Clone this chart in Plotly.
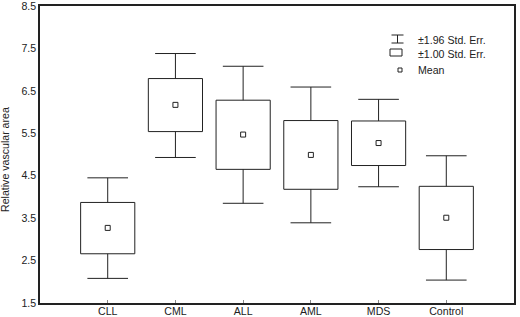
import plotly.graph_objects as go

categories = ["CLL", "CML", "ALL", "AML", "MDS", "Control"]
mean = [3.27, 6.17, 5.47, 4.99, 5.27, 3.51]
se1_lo = [2.66, 5.54, 4.65, 4.18, 4.74, 2.76]
se1_hi = [3.87, 6.79, 6.28, 5.80, 5.79, 4.25]
se196_lo = [2.08, 4.93, 3.85, 3.39, 4.24, 2.04]
se196_hi = [4.45, 7.38, 7.08, 6.59, 6.30, 4.97]
y_ticks = [1.5, 2.5, 3.5, 4.5, 5.5, 6.5, 7.5, 8.5]
legend_labels = ["±1.96 Std. Err.", "±1.00 Std. Err.", "Mean"]

INK = "#222222"
FONT = "Liberation Sans, Arial, sans-serif"
FS = 10.6

W, H = 520, 317
L, R, T, B = 40, 6, 6, 14
PW, PH = W - L - R, H - T - B

BOX_HALF = 0.4
CAP_HALF = 0.3


def px(x):
    return (x - L) / PW


def py(y):
    return (H - B - y) / PH


xi = list(range(len(categories)))

# boxes (±1.00 SE)
bx, by = [], []
for i, lo, hi in zip(xi, se1_lo, se1_hi):
    bx += [i - BOX_HALF, i + BOX_HALF, i + BOX_HALF, i - BOX_HALF, i - BOX_HALF, None]
    by += [lo, lo, hi, hi, lo, None]

# whiskers (±1.96 SE)
wx, wy = [], []
for i, lo1, hi1, lo2, hi2 in zip(xi, se1_lo, se1_hi, se196_lo, se196_hi):
    wx += [i, i, None, i - CAP_HALF, i + CAP_HALF, None]
    wy += [hi1, hi2, None, hi2, hi2, None]
    wx += [i, i, None, i - CAP_HALF, i + CAP_HALF, None]
    wy += [lo1, lo2, None, lo2, lo2, None]

fig = go.Figure()
fig.add_trace(go.Scatter(x=bx, y=by, mode="lines", line=dict(color=INK, width=1),
                         hoverinfo="skip", showlegend=False))
fig.add_trace(go.Scatter(x=wx, y=wy, mode="lines", line=dict(color=INK, width=1),
                         hoverinfo="skip", showlegend=False))
fig.add_trace(go.Scatter(
    x=xi, y=mean, mode="markers",
    marker=dict(symbol="square-open", size=5, color=INK, line=dict(width=1, color=INK)),
    showlegend=False,
))

shapes = [
    dict(type="line", xref="paper", yref="paper", x0=px(391.5), x1=px(403.5), y0=py(35), y1=py(35), line=dict(color=INK, width=1)),
    dict(type="line", xref="paper", yref="paper", x0=px(391.5), x1=px(403.5), y0=py(43), y1=py(43), line=dict(color=INK, width=1)),
    dict(type="line", xref="paper", yref="paper", x0=px(397.5), x1=px(397.5), y0=py(35), y1=py(43), line=dict(color=INK, width=1)),
    dict(type="rect", xref="paper", yref="paper", x0=px(390), x1=px(402), y0=py(49), y1=py(56), line=dict(color=INK, width=1)),
    dict(type="rect", xref="paper", yref="paper", x0=px(398), x1=px(402), y0=py(68), y1=py(72), line=dict(color=INK, width=1)),
]
annotations = []
for lab, yy in zip(legend_labels, [40, 53.5, 70]):
    annotations.append(dict(text=lab, xref="paper", yref="paper", x=px(416), y=py(yy),
                            xanchor="left", yanchor="middle", showarrow=False,
                            font=dict(size=FS, color=INK, family=FONT)))
annotations.append(dict(text="Relative vascular area", xref="paper", yref="paper",
                        x=px(5), y=py(160), textangle=-90, xanchor="center", yanchor="middle",
                        showarrow=False, font=dict(size=FS, color=INK, family=FONT)))

fig.update_layout(
    width=W, height=H,
    margin=dict(l=L, r=R, t=T, b=B),
    paper_bgcolor="white", plot_bgcolor="white",
    showlegend=False,
    shapes=shapes, annotations=annotations,
    font=dict(family=FONT, size=FS, color=INK),
)
fig.update_xaxes(
    range=[-1, 6], tickvals=xi, ticktext=categories,
    showline=True, linecolor=INK, linewidth=1.5, mirror=True,
    ticks="inside", ticklen=3, tickcolor="#888", showgrid=False, zeroline=False,
    tickfont=dict(size=FS, color=INK, family=FONT), automargin=False,
    ticklabeloverflow="allow", ticklabelstandoff=-2,
)
fig.update_yaxes(
    range=[1.5, 8.5], tickvals=y_ticks, ticktext=[f"{v:.1f}" for v in y_ticks],
    showline=True, linecolor=INK, linewidth=1.5, mirror=True,
    ticks="", showgrid=False, zeroline=False,
    tickfont=dict(size=FS, color=INK, family=FONT), automargin=False,
    ticklabeloverflow="allow",
)
fig.write_html("out.html", config={"displayModeBar": False},
               post_script="document.body.style.margin='0';document.body.style.overflow='hidden';")
